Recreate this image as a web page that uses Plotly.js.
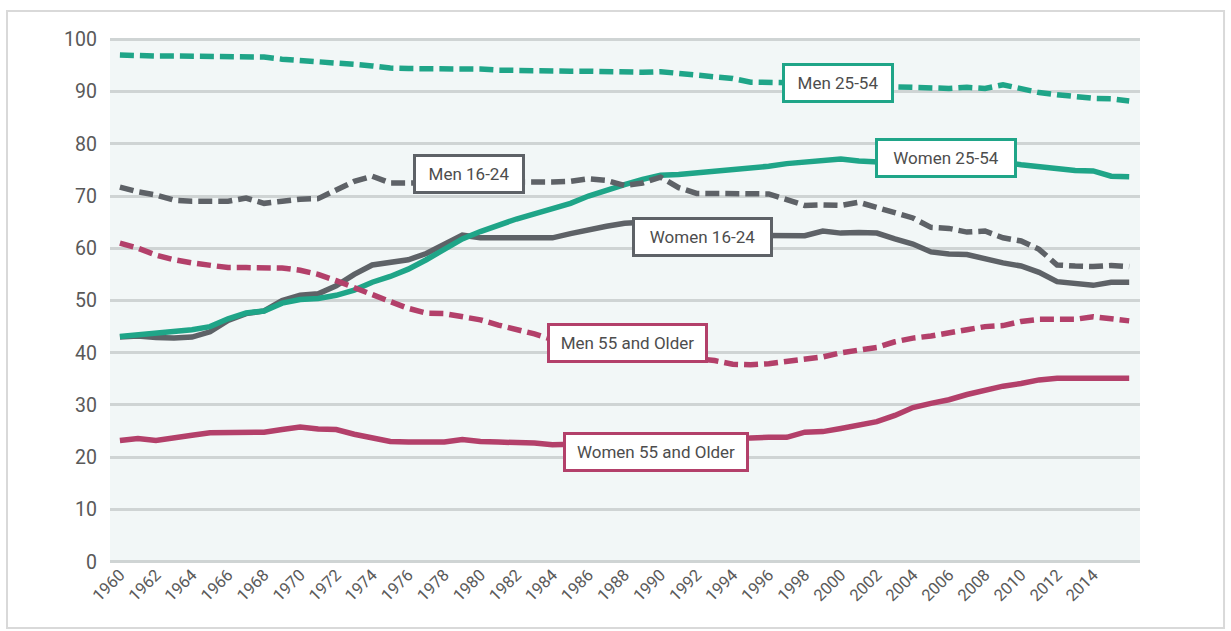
<!DOCTYPE html>
<html>
<head>
<meta charset="utf-8">
<script src="https://cdn.plot.ly/plotly-3.0.1.min.js"></script>
<style>html,body{margin:0;padding:0;background:#fff;}#chart{width:1231px;height:631px;}</style>
</head>
<body>
<div id="chart"></div>
<script>
var years = [];
for (var yr = 1960; yr <= 2016; yr++) years.push(yr);

var men2554 = [97.0,96.8,96.8,96.8,96.8,96.8,96.8,96.8,96.6,96.2,96.0,95.7,95.4,95.2,94.9,94.5,94.4,94.4,94.4,94.4,94.3,94.1,94.0,93.9,93.9,93.9,93.9,93.8,93.8,93.7,93.8,93.5,93.2,93.0,92.5,91.8,91.7,91.6,91.6,91.6,91.7,91.2,91.0,90.9,90.7,90.6,90.6,90.8,90.6,91.3,90.6,89.8,89.4,89.0,88.7,88.6,88.2];
var women2554 = [43.1,43.4,43.6,44.0,44.4,45.0,46.5,47.6,48.0,49.5,50.2,50.4,51.0,52.0,53.5,54.6,56.0,57.8,59.8,61.8,63.2,64.5,65.6,66.6,67.5,68.6,70.0,71.2,72.2,73.2,74.0,74.1,74.4,74.6,74.9,75.3,75.7,76.2,76.5,76.7,77.1,76.7,76.5,76.3,76.2,76.3,76.5,76.6,76.6,76.5,76.0,75.6,75.2,74.9,74.8,73.8,73.7];
var men1624 = [71.7,70.8,70.2,69.2,69.0,69.0,69.0,69.6,68.6,69.0,69.4,69.5,71.2,72.8,73.8,72.5,72.5,72.6,72.7,72.8,72.7,72.7,72.6,72.7,72.7,72.8,73.3,73.0,72.0,72.5,73.6,71.6,70.5,70.5,70.5,70.5,70.4,69.3,68.2,68.3,68.2,68.8,67.8,66.8,65.8,64.0,63.8,63.1,63.3,62.0,61.4,59.8,56.8,56.6,56.5,56.7,56.5];
var women1624 = [43.0,43.2,42.9,42.8,43.0,44.0,46.2,47.5,48.0,50.0,51.0,51.3,52.8,55.0,56.8,57.2,57.8,59.0,60.8,62.5,62.0,62.0,62.0,62.0,62.0,62.8,63.6,64.2,64.8,65.0,64.5,63.5,63.0,62.5,62.5,62.5,62.4,62.4,62.4,63.3,62.9,63.0,62.9,61.8,60.8,59.3,58.9,58.8,57.9,57.2,56.6,55.4,53.6,53.3,52.9,53.5,53.5];
var men55 = [61.0,60.0,58.7,57.8,57.2,56.7,56.3,56.3,56.3,56.2,55.8,55.0,53.8,52.4,51.0,49.8,48.5,47.6,47.5,47.0,46.3,45.3,44.5,43.6,42.5,41.5,41.0,40.5,40.0,39.8,39.5,39.2,38.8,38.5,37.8,37.7,37.9,38.3,38.9,39.2,40.0,40.4,41.0,42.1,42.8,43.2,43.7,44.4,45.0,45.2,46.0,46.4,46.4,46.4,46.9,46.6,46.1];
var women55 = [23.2,23.6,23.2,23.6,24.2,24.7,24.8,24.8,24.8,25.3,25.8,25.4,25.3,24.4,23.8,23.0,22.9,22.9,22.9,23.4,23.0,22.9,22.9,22.7,22.4,22.5,22.6,22.7,22.9,23.0,22.9,22.9,22.8,22.9,23.3,23.7,23.8,23.8,24.8,24.9,25.5,26.1,26.8,28.0,29.5,30.3,31.0,32.0,32.9,33.6,34.1,34.8,35.1,35.1,35.1,35.1,35.1];

var xTickVals = [];
for (var t = 1960; t <= 2014; t += 2) xTickVals.push(t);
var xTickText = xTickVals.map(String);
var yTickVals = [0,10,20,30,40,50,60,70,80,90,100];

var labels = ["Men 25-54","Women 25-54","Men 16-24","Women 16-24","Men 55 and Older","Women 55 and Older"];

var TEAL = "#1fa588", GRAY = "#5e6267", PINK = "#b3406a";
var LW = 5.5, DASH = "14px,6px";

function tr(y, color, dash, name) {
  return {x: years, y: y, type: "scatter", mode: "lines", name: name,
    line: {color: color, width: LW, dash: dash, shape: "linear"}, hoverinfo: "skip"};
}

var data = [
  tr(women1624, GRAY, "solid", labels[3]),
  tr(women2554, TEAL, "solid", labels[1]),
  tr(women55, PINK, "solid", labels[5]),
  tr(men1624, GRAY, DASH, labels[2]),
  tr(men55, PINK, DASH, labels[4]),
  tr(men2554, TEAL, DASH, labels[0])
];

function box(text, x, y, w, color) {
  return {text: text, x: x, y: y, xref: "x", yref: "y", showarrow: false,
    xanchor: "center", yanchor: "middle", width: w, height: 34,
    bgcolor: "#ffffff", bordercolor: color, borderwidth: 3, borderpad: 0,
    font: {family: "Roboto, 'Liberation Sans', sans-serif", size: 17, color: "#4d4d4d"}};
}

var layout = {
  width: 1231, height: 631,
  margin: {l: 110, r: 91, t: 38, b: 68},
  paper_bgcolor: "#ffffff",
  plot_bgcolor: "#f2f7f7",
  showlegend: false,
  xaxis: {
    range: [1959.45, 2016.6],
    tickmode: "array", tickvals: xTickVals, ticktext: xTickText,
    tickangle: -45, showgrid: false, zeroline: false, showline: false,
    ticks: "", ticklabelstandoff: -2,
    tickfont: {family: "Roboto, sans-serif", size: 16.5, color: "#5a5a5a"},
    fixedrange: true
  },
  yaxis: {
    range: [-0.25, 100.25],
    tickmode: "array", tickvals: yTickVals,
    showgrid: true, gridcolor: "#cfd4d4", gridwidth: 3,
    zeroline: false, showline: false, ticks: "",
    ticklabelstandoff: 12,
    tickfont: {family: "Roboto, sans-serif", size: 19.5, color: "#595959"},
    fixedrange: true
  },
  shapes: [
    {type: "rect", xref: "paper", yref: "paper", x0: -0.1, x1: 1.0816, y0: -0.1238, y1: 1.0514,
     line: {color: "#d9d9d9", width: 2}, fillcolor: "rgba(0,0,0,0)", layer: "below"}
  ],
  annotations: [
    box(labels[0], 1999.84, 91.6, 106, TEAL),
    box(labels[1], 2005.84, 77.3, 136, TEAL),
    box(labels[2], 1979.37, 74.2, 106, GRAY),
    box(labels[3], 1992.33, 62.1, 135, GRAY),
    box(labels[4], 1988.16, 41.9, 155, PINK),
    box(labels[5], 1989.74, 20.95, 180, PINK)
  ]
};

Plotly.newPlot("chart", data, layout, {displayModeBar: false, staticPlot: true});
</script>
</body>
</html>
